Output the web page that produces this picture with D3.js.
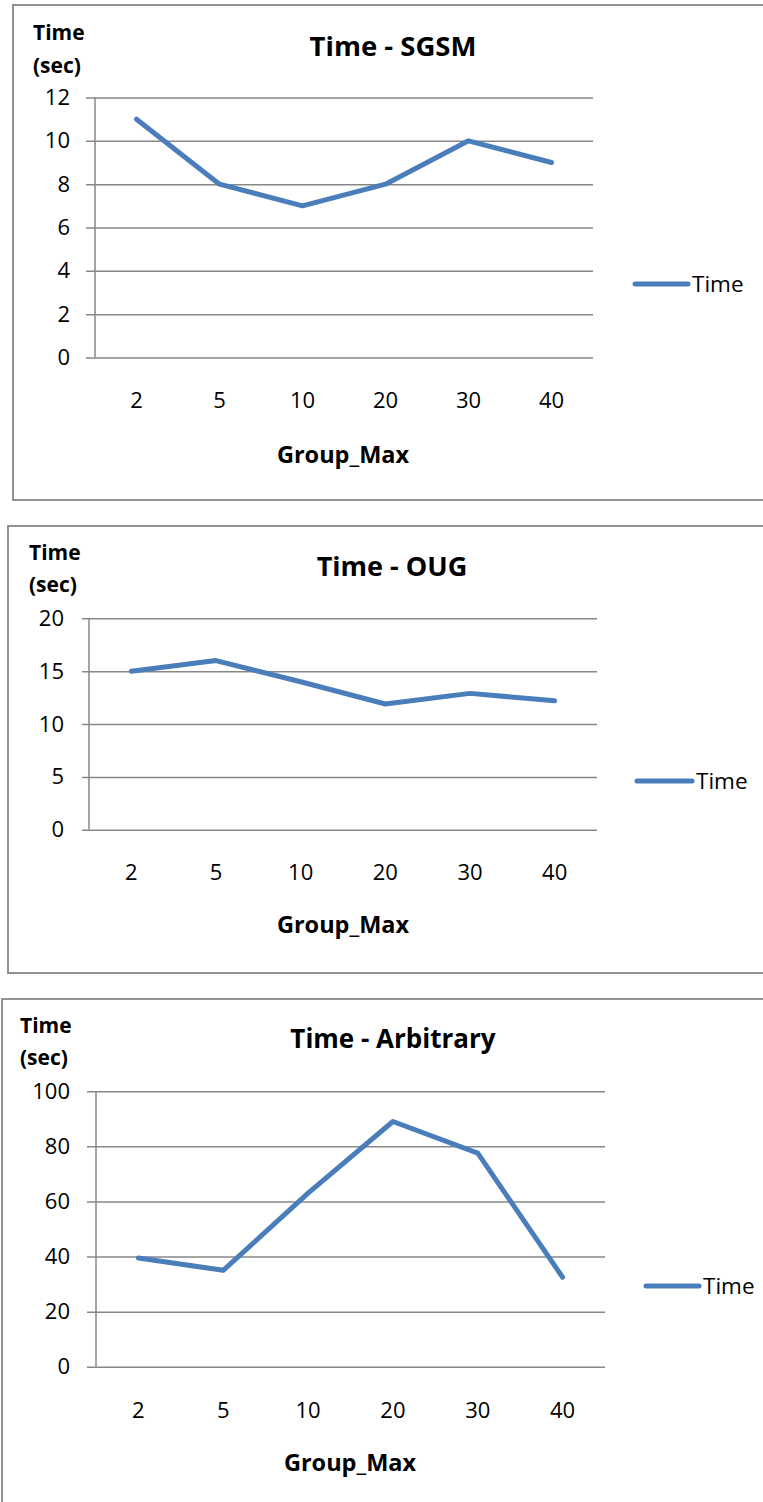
<!DOCTYPE html>
<html>
<head>
<meta charset="utf-8">
<script src="https://cdn.jsdelivr.net/npm/d3@7"></script>
<style>
  html, body { margin: 0; padding: 0; background: #fff; }
  svg { display: block; }
  text { font-family: "Open Sans", "Noto Sans", sans-serif; fill: #000; }
</style>
</head>
<body>
<svg id="chart" width="763" height="1502"></svg>
<script>
// ---- data ----
const categories = ["2", "5", "10", "20", "30", "40"];
const sgsmTimes = [11, 8, 7, 8, 10, 9];
const ougTimes = [15, 16, 14, 11.9, 12.9, 12.2];
const arbitraryTimes = [39.5, 35, 63, 89, 77.5, 32.5];
const sgsmTicks = [0, 2, 4, 6, 8, 10, 12];
const ougTicks = [0, 5, 10, 15, 20];
const arbitraryTicks = [0, 20, 40, 60, 80, 100];
const titles = ["Time - SGSM", "Time - OUG", "Time - Arbitrary"];
const seriesName = "Time";
const xTitle = "Group_Max";
const yTitleLines = ["Time", "(sec)"];

// ---- layout (positions only) ----
const layouts = [
  { box: [13, 5, 800, 500], left: 95, right: 593, top: 97.5, bottom: 357.5, tickStart: 86, labelRight: 70,
    xLabelY: 400, xTitleX: 343, xTitleY: 455, titleX: 393, titleY: 56, titleFont: 27.5, yTitleX: 33, yTitleY: [40, 73],
    legend: [635, 688, 284] },
  { box: [8, 526, 800, 973], left: 89, right: 597, top: 618.3, bottom: 829.8, tickStart: 82, labelRight: 64,
    xLabelY: 872, xTitleX: 343, xTitleY: 925, titleX: 392, titleY: 576, titleFont: 27, yTitleX: 29, yTitleY: [560, 592],
    legend: [637, 692, 781] },
  { box: [2, 999, 800, 1560], left: 96, right: 605, top: 1091.2, bottom: 1366.8, tickStart: 87, labelRight: 70,
    xLabelY: 1410, xTitleX: 350, xTitleY: 1463, titleX: 393, titleY: 1048, titleFont: 26, yTitleX: 20, yTitleY: [1033, 1065],
    legend: [646, 699, 1286] }
];

const lineColor = "#4a7ebb";
const gridColor = "#878787";
const tickFont = 22, axisTitleFont = 21, xTitleFont = 23.5, legendFont = 22.5;

const svg = d3.select("#chart");

function drawChart(values, ticks, title, L) {
  const g = svg.append("g");
  // border
  g.append("rect")
    .attr("x", L.box[0]).attr("y", L.box[1])
    .attr("width", L.box[2] - L.box[0]).attr("height", L.box[3] - L.box[1])
    .attr("fill", "none").attr("stroke", gridColor).attr("stroke-width", 1.8);

  const x = d3.scaleBand().domain(categories).range([L.left, L.right]);
  const y = d3.scaleLinear().domain([0, d3.max(ticks)]).range([L.bottom, L.top]);

  // y axis with gridlines (ticks drawn from right edge back to tick start)
  const yAxis = d3.axisLeft(y).tickValues(ticks).tickFormat(d3.format("d"))
    .tickSize(L.right - L.tickStart).tickPadding(L.tickStart - L.labelRight);
  const ya = g.append("g").attr("transform", `translate(${L.right},0)`).call(yAxis);
  ya.select(".domain").remove();
  ya.selectAll(".tick line").attr("stroke", gridColor).attr("stroke-width", 1.5);
  ya.selectAll(".tick text").attr("font-size", tickFont).attr("font-family", "Open Sans").attr("fill", "#000");

  // vertical axis line
  g.append("line").attr("x1", L.left).attr("x2", L.left)
    .attr("y1", y(0)).attr("y2", y(d3.max(ticks)))
    .attr("stroke", gridColor).attr("stroke-width", 1.5);

  // x axis labels
  const xAxis = d3.axisBottom(x).tickSize(0).tickPadding(L.xLabelY - L.bottom - 0.355 * tickFont);
  const xa = g.append("g").attr("transform", `translate(0,${L.bottom})`).call(xAxis);
  xa.select(".domain").remove();
  xa.selectAll(".tick text").attr("font-size", tickFont).attr("font-family", "Open Sans").attr("fill", "#000");

  // line
  const line = d3.line()
    .x((d, i) => x(categories[i]) + x.bandwidth() / 2)
    .y(d => y(d));
  g.append("path").datum(values)
    .attr("d", line).attr("fill", "none")
    .attr("stroke", lineColor).attr("stroke-width", 5)
    .attr("stroke-linecap", "round").attr("stroke-linejoin", "round");

  // title
  g.append("text").attr("x", L.titleX).attr("y", L.titleY)
    .attr("text-anchor", "middle").attr("font-weight", "bold").attr("font-size", L.titleFont)
    .text(title);

  // y axis title
  yTitleLines.forEach((t, i) => {
    g.append("text").attr("x", L.yTitleX).attr("y", L.yTitleY[i])
      .attr("font-weight", "bold").attr("font-size", axisTitleFont).text(t);
  });

  // x axis title
  g.append("text").attr("x", L.xTitleX).attr("y", L.xTitleY)
    .attr("dy", "0.36em")
    .attr("text-anchor", "middle").attr("font-weight", "bold").attr("font-size", xTitleFont)
    .text(xTitle);

  // legend
  g.append("line").attr("x1", L.legend[0]).attr("x2", L.legend[1])
    .attr("y1", L.legend[2]).attr("y2", L.legend[2])
    .attr("stroke", lineColor).attr("stroke-width", 5).attr("stroke-linecap", "round");
  g.append("text").attr("x", L.legend[1] + 4).attr("y", L.legend[2])
    .attr("dy", "0.36em").attr("font-size", legendFont).text(seriesName);
}

drawChart(sgsmTimes, sgsmTicks, titles[0], layouts[0]);
drawChart(ougTimes, ougTicks, titles[1], layouts[1]);
drawChart(arbitraryTimes, arbitraryTicks, titles[2], layouts[2]);
</script>
</body>
</html>
